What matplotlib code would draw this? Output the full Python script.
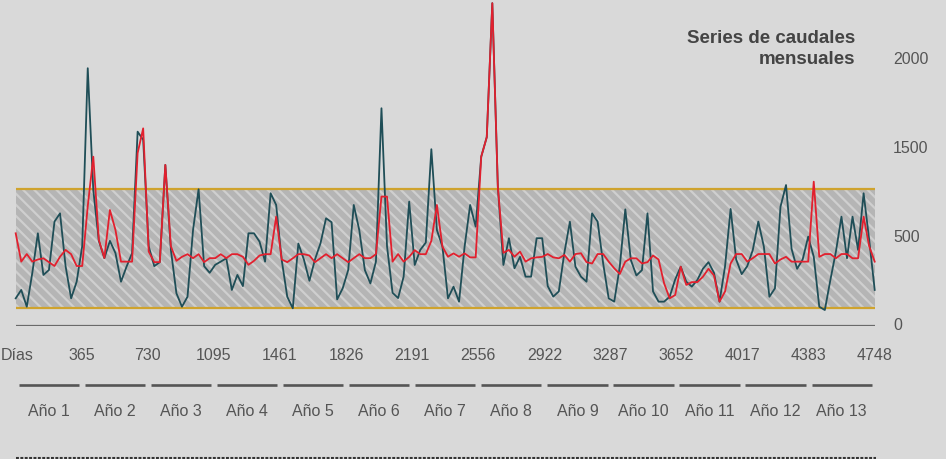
import matplotlib
matplotlib.use("Agg")
import matplotlib.pyplot as plt
import numpy as np

plt.rcParams['font.family'] = ['Liberation Sans', 'DejaVu Sans']
plt.rcParams['hatch.linewidth'] = 1.6

# monthly flow series
teal = [
    208, 271, 145, 400, 697, 384, 421, 785, 847, 450, 208, 333,
    600, 1938, 1022, 640, 510, 640, 548, 333, 446, 548, 1461, 1400,
    600, 450, 480, 1211, 572, 246, 145, 220, 722, 1028, 450, 400,
    460, 484, 509, 271, 384, 300, 697, 697, 634, 484, 998, 910,
    496, 220, 133, 620, 500, 340, 500, 622, 810, 780, 200, 283,
    421, 910, 720, 421, 320, 484, 1637, 600, 250, 210, 371, 935,
    459, 572, 627, 1329, 722, 597, 208, 296, 183, 597, 910, 747,
    1273, 1420, 2427, 1045, 459, 660, 434, 520, 371, 371, 660, 660,
    300, 221, 260, 550, 784, 446, 371, 333, 847, 785, 471, 208,
    183, 446, 877, 496, 380, 420, 847, 260, 183, 183, 220, 350,
    446, 333, 296, 346, 430, 480, 400, 183, 450, 880, 500, 390,
    450, 571, 785, 597, 220, 283, 897, 1060, 580, 430, 500, 672,
    521, 145, 120, 346, 559, 822, 509, 822, 572, 998, 650, 271,
]
red = [
    697, 484, 541, 484, 500, 509, 480, 451, 521, 572, 540, 451,
    451, 900, 1273, 647, 511, 872, 722, 484, 484, 484, 1300, 1486,
    560, 480, 480, 1211, 600, 490, 520, 540, 510, 540, 480, 510,
    510, 540, 510, 540, 540, 520, 460, 490, 530, 540, 540, 822,
    500, 480, 509, 540, 540, 530, 480, 510, 540, 510, 540, 510,
    480, 510, 540, 510, 510, 540, 973, 973, 484, 541, 484, 520,
    570, 540, 540, 640, 910, 597, 521, 546, 521, 546, 516, 516,
    1273, 1420, 2427, 1045, 550, 572, 521, 559, 484, 509, 516, 520,
    541, 516, 509, 534, 484, 541, 547, 480, 470, 541, 541, 484,
    434, 391, 484, 509, 509, 470, 480, 530, 500, 321, 208, 233,
    446, 309, 330, 330, 370, 430, 380, 183, 260, 470, 541, 541,
    484, 510, 541, 541, 541, 470, 500, 520, 484, 484, 484, 484,
    1085, 520, 541, 541, 509, 541, 541, 509, 509, 822, 600, 484,
]
band_low = 138
band_high = 1033

x_ticks = [0, 365, 730, 1095, 1461, 1826, 2191, 2556, 2922, 3287, 3652, 4017, 4383, 4748]
x_labels = ['Días'] + [str(t) for t in x_ticks[1:]]
y_ticks = [0, 667, 1338, 2000]
y_labels = ['0', '500', '1500', '2000']
years = ['Año %d' % k for k in range(1, 14)]

total_days = 4748
days = np.linspace(0, total_days, len(teal))

bg = '#d9d9d9'
fig = plt.figure(figsize=(9.46, 4.59), dpi=100, facecolor=bg)
ax = fig.add_axes([15.7 / 946, 133 / 459, 859 / 946, 326 / 459])
ax.set_facecolor('none')
ax.set_xlim(0, total_days)
ax.set_ylim(0, 2451)
for s in ax.spines.values():
    s.set_visible(False)
ax.set_xticks([])
ax.set_yticks([])

# hatched band
ax.fill_between([0, total_days], band_low, band_high, facecolor='#b5b5b5',
                edgecolor='#cfcfcf', hatch='\\\\\\', linewidth=0, zorder=1)
ax.axhline(band_high, color='#cfa32e', lw=1.6, zorder=2)
ax.axhline(band_low, color='#cfa32e', lw=1.6, zorder=2)
ax.axhline(0, color='#6a6a6a', lw=1.6, zorder=2)

ax.plot(days, teal, color='#1f4e57', lw=1.3, zorder=3, clip_on=False)
ax.plot(days, red, color='#e2202e', lw=1.3, zorder=4, clip_on=False)

xt = ax.get_xaxis_transform()
yt = ax.get_yaxis_transform()
lab_col = '#555555'
for t, lab in zip(x_ticks, x_labels):
    if t == 0:
        # first label sits against the left edge
        fig.text(0.5 / 946, 1 - 355 / 459, lab, ha='left', va='center',
                 fontsize=11.5, color=lab_col)
        continue
    ax.text(t, -0.089, lab, transform=xt, ha='center', va='center',
            fontsize=11.5, color=lab_col)
for t, lab in zip(y_ticks, y_labels):
    ax.text(1.0213, t, lab, transform=yt, ha='left', va='center',
            fontsize=11.5, color=lab_col)

year_len = 365.25
for k, name in enumerate(years):
    a = k * year_len + 16
    b = (k + 1) * year_len - 16
    ax.plot([a, b], [-0.181, -0.181], transform=xt, color='#555555',
            lw=1.9, clip_on=False, solid_capstyle='butt')
    ax.text((k + 0.5) * year_len, -0.261, name, transform=xt, ha='center',
            va='center', fontsize=11.5, color=lab_col)

ax.plot([0, total_days + 5], [-0.4034, -0.4034], transform=xt, color='#333333',
        lw=1.5, dashes=(1.4, 0.7), clip_on=False)

fig.text(855 / 946, 1 - 30 / 459, 'Series de caudales\nmensuales', ha='right',
         va='top', fontsize=13.5, fontweight='bold', color='#444444',
         linespacing=1.3)

fig.savefig('out.png', dpi=100, facecolor=bg)
